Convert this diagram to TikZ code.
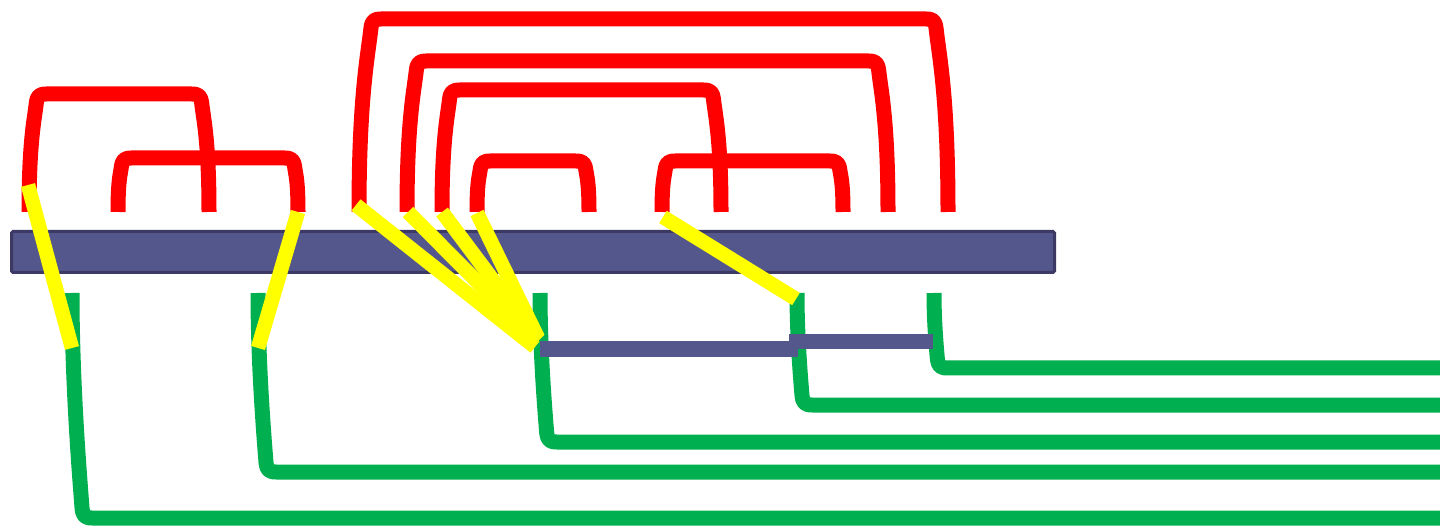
\documentclass[tikz,border=0pt]{standalone}
\definecolor{rd}{RGB}{255,0,0}
\definecolor{yl}{RGB}{255,255,0}
\definecolor{gn}{RGB}{0,176,80}
\definecolor{pu}{RGB}{84,87,140}
\definecolor{pub}{RGB}{60,58,100}
\tikzset{
 redline/.style={draw=rd,line width=15pt,line join=round,line cap=butt},
 greenline/.style={draw=gn,line width=15pt,line join=round,line cap=butt},
 yellowline/.style={draw=yl,line width=14.5pt,line cap=butt},
 bigbar/.style={fill=pu,draw=pub,line width=3pt,rounded corners=1.5pt},
 smallbar/.style={fill=pu},
}
\newcommand{\redarc}[3]{%
 \pgfmathsetmacro{\hh}{212-#3}%
 \pgfmathsetmacro{\dd}{0.062*\hh}%
 \draw[redline] (#1,212) .. controls (#1,{#3+0.4*\hh}) and ({#1+0.75*\dd},{#3+9+0.15*(\hh-9)}) .. ({#1+\dd},{#3+9}) .. controls ({#1+\dd+1},{#3+2}) and ({#1+\dd+3},#3) .. ({#1+\dd+10},#3) -- ({#2-\dd-10},#3) .. controls ({#2-\dd-3},#3) and ({#2-\dd-1},{#3+2}) .. ({#2-\dd},{#3+9}) .. controls ({#2-0.75*\dd},{#3+9+0.15*(\hh-9)}) and (#2,{#3+0.4*\hh}) .. (#2,212);}
\newcommand{\greenleg}[2]{%
 \pgfmathsetmacro{\hh}{#2-293}%
 \pgfmathsetmacro{\dd}{0.045*\hh}%
 \draw[greenline] (#1,293) .. controls (#1,{293+0.4*\hh}) and ({#1+0.75*\dd},{#2-9-0.15*(\hh-9)}) .. ({#1+\dd},{#2-9}) .. controls ({#1+\dd+1},{#2-2}) and ({#1+\dd+3},#2) .. ({#1+\dd+10},#2) -- (1440,#2);}
\begin{document}
\begin{tikzpicture}[x=1pt,y=-1pt]
\useasboundingbox (0,0) rectangle (1440,526);
% green legs
\greenleg{72}{518}
\greenleg{258}{472}
\greenleg{540}{442}
\greenleg{797}{405}
\greenleg{934}{368}
% small bars
\fill[smallbar] (540,341) rectangle (798,357);
\fill[smallbar] (789,334) rectangle (933,349);
% big bar
\draw[bigbar] (11.5,231.5) rectangle (1054.5,272.5);
% red arcs
\redarc{29}{209}{94}
\redarc{118}{298}{158}
\redarc{359}{948}{19}
\redarc{407}{888}{61}
\redarc{442}{721}{90}
\redarc{477}{589}{161}
\redarc{662}{843}{161}
% yellow links
\coordinate (y1a) at (28,185);  \coordinate (y1b) at (72,348);
\coordinate (y2a) at (298,212); \coordinate (y2b) at (258,348);
\coordinate (f1a) at (356,205); \coordinate (f1b) at (535,347);
\coordinate (f2a) at (408,212); \coordinate (f2b) at (537,342);
\coordinate (f3a) at (442,212); \coordinate (f3b) at (538,340);
\coordinate (f4a) at (477,213); \coordinate (f4b) at (538,338);
\coordinate (y5a) at (663,217); \coordinate (y5b) at (796,299);
\draw[yellowline] (y1a) -- (y1b);
\draw[yellowline] (y2a) -- (y2b);
\draw[yellowline] (f1a) -- (f1b);
\draw[yellowline] (f2a) -- (f2b);
\draw[yellowline] (f3a) -- (f3b);
\draw[yellowline] (f4a) -- (f4b);
\draw[yellowline] (y5a) -- (y5b);
\end{tikzpicture}
\end{document}
